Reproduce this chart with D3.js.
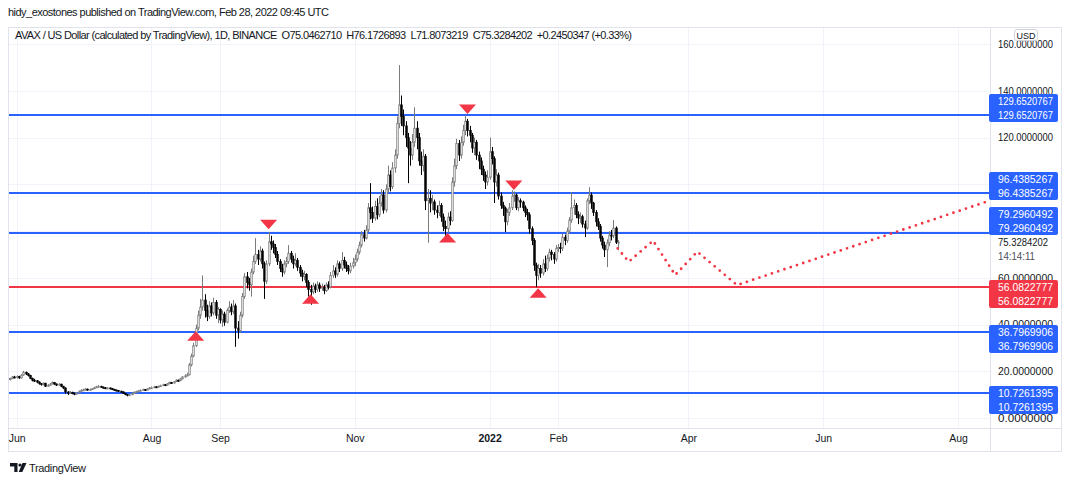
<!DOCTYPE html>
<html>
<head>
<meta charset="utf-8">
<script src="https://cdn.jsdelivr.net/npm/d3@7"></script>
<style>
body { margin: 0; background: #fff; }
svg { display: block; }
</style>
</head>
<body>
<div id="chart"></div>
<script>
// AVAX / USD daily candles, 2021-05-28 .. 2022-02-28
var startDay = '2021-05-28';

var opens = [
    17.0, 16.6, 16.9, 17.6,
    17.3, 17.8, 17.2, 18.4, 19.6, 18.9, 18.2, 17.0, 16.2, 16.0, 15.4, 14.8, 14.3, 14.9, 13.6, 14.1, 14.6, 15.2, 14.6, 14.1, 14.5, 13.6, 12.9, 11.2, 10.6, 11.0, 10.6, 10.2, 10.8, 11.5,
    11.9, 12.1, 12.4, 12.0, 12.3, 12.6, 13.0, 13.4, 13.6, 13.2, 13.0, 12.7, 12.9, 12.6, 12.3, 12.0, 11.8, 11.5, 11.2, 10.6, 10.1, 9.7, 10.0, 10.6, 11.1, 11.3, 11.7, 11.9, 12.2, 12.0, 12.5,
    12.9, 13.0, 13.4, 13.2, 13.6, 13.9, 14.3, 14.1, 14.7, 15.2, 15.0, 15.6, 16.2, 16.0, 16.8, 17.6, 18.1, 18.5, 22.8, 26.5, 31.0, 38.5, 44.0, 47.5, 50.5, 46.0, 43.5, 48.0, 45.0, 49.5, 44.0,
    46.5, 42.0, 44.5, 41.0, 46.0, 47.5, 45.5, 48.0, 38.5, 37.5, 44.0, 52.0, 60.5, 58.0, 57.0, 62.5, 67.0, 70.0, 68.0, 71.5, 66.0, 58.5, 66.0, 75.5, 74.5, 73.0, 70.0, 67.0, 64.0, 62.5,
    66.0, 67.0, 70.5, 68.0, 66.0, 67.5, 64.5, 62.0, 60.5, 61.5, 58.0, 55.0, 54.0, 56.5, 55.0, 57.0, 55.5, 56.0, 54.5, 57.0, 56.0, 61.0, 63.0, 61.5, 66.0, 64.0, 67.5, 65.5, 64.0, 63.0, 65.0,
    66.5, 68.0, 71.0, 74.0, 78.5, 77.0, 80.5, 90.0, 88.0, 85.5, 90.5, 87.0, 92.0, 95.5, 89.0, 98.0, 104.0, 99.0, 107.0, 112.5, 126.0, 134.0, 129.0, 125.0, 120.0, 115.5, 112.5, 118.0, 124.0, 120.0,
    110.0, 108.0, 112.0, 93.0, 94.0, 92.0, 92.5, 89.0, 88.0, 91.0, 86.0, 82.0, 81.0, 86.0, 84.5, 101.0, 108.0, 117.5, 112.5, 118.0, 123.0, 127.0, 123.0, 121.0, 115.5, 118.0, 112.5, 110.0, 106.5, 104.0, 101.0,
    103.0, 114.0, 111.0, 101.0, 104.0, 95.0, 91.0, 89.8, 84.0, 88.0, 90.0, 95.0, 95.4, 90.0, 93.0, 92.4, 90.0, 88.0, 87.0, 81.0, 76.0, 65.4, 61.0, 64.0, 62.0, 66.0, 64.0, 68.4, 71.0, 70.0, 68.0,
    72.7, 73.0, 72.7, 77.4, 76.0, 80.0, 84.7, 90.0, 91.0, 87.0, 85.6, 86.2, 83.0, 81.3, 93.0, 95.4, 92.0, 88.0, 84.0, 82.0, 77.0, 74.0, 72.0, 75.0, 78.3, 78.0, 81.3, 75.0462710
];

var highs = [
    17.6, 17.3, 18.0, 18.1,
    18.3, 18.1, 18.8, 20.2, 19.9, 19.3, 18.5, 17.3, 16.8, 16.3, 15.7, 15.0, 15.3, 15.1, 14.5, 15.0, 15.7, 15.4, 14.8, 14.9, 14.7, 13.8, 13.1, 11.5, 11.6, 11.3, 10.9, 11.1, 11.8, 12.3,
    12.6, 12.8, 12.6, 12.6, 12.9, 13.4, 13.8, 14.1, 13.8, 13.5, 13.2, 13.2, 13.1, 12.8, 12.5, 12.2, 12.0, 11.7, 11.4, 10.8, 10.3, 10.3, 10.9, 11.4, 11.7, 12.0, 12.3, 12.6, 12.4, 12.8, 13.3,
    13.5, 13.8, 13.7, 13.9, 14.3, 14.7, 14.6, 15.0, 15.6, 15.5, 15.9, 16.6, 16.5, 17.2, 18.0, 18.7, 19.4, 23.6, 27.6, 32.2, 40.0, 46.0, 51.0, 61.0, 53.0, 48.5, 50.0, 49.5, 51.5, 50.5, 47.5,
    47.0, 46.0, 45.5, 47.0, 50.0, 49.0, 50.5, 49.0, 41.5, 45.5, 53.5, 62.0, 62.5, 60.0, 64.0, 69.5, 77.0, 72.0, 73.5, 72.5, 67.0, 67.5, 79.6, 78.0, 76.0, 74.5, 71.5, 68.0, 66.0, 67.5,
    69.0, 74.0, 71.5, 69.5, 70.5, 68.5, 65.5, 63.5, 63.0, 62.0, 59.0, 57.0, 58.0, 57.5, 58.5, 58.0, 57.5, 57.0, 58.0, 58.5, 62.5, 65.5, 64.5, 67.5, 67.0, 71.0, 69.0, 67.0, 65.5, 66.5, 68.5,
    70.0, 72.5, 75.5, 80.0, 80.5, 82.5, 92.0, 100.5, 90.5, 93.0, 94.0, 95.0, 98.0, 97.5, 100.0, 108.0, 106.0, 109.5, 115.0, 129.0, 151.0, 138.0, 132.0, 127.0, 122.0, 118.5, 121.5, 133.0, 127.0, 122.0,
    114.0, 115.0, 113.0, 98.0, 97.5, 95.5, 93.5, 91.0, 93.0, 92.0, 87.5, 84.5, 88.0, 88.5, 103.0, 111.0, 119.5, 119.0, 120.5, 125.5, 129.6, 128.0, 125.0, 122.0, 120.0, 119.0, 114.0, 111.5, 108.0, 105.5, 106.0,
    120.0, 116.0, 112.0, 106.5, 105.0, 96.5, 92.5, 90.5, 89.5, 92.0, 97.5, 97.0, 96.0, 94.5, 94.0, 93.0, 91.0, 89.5, 88.0, 82.0, 77.0, 66.5, 66.0, 65.5, 68.0, 69.5, 70.0, 72.5, 72.0, 71.0, 74.0,
    74.5, 75.0, 79.0, 78.5, 81.5, 86.0, 96.7, 93.5, 92.0, 88.5, 88.0, 87.0, 84.5, 94.0, 98.8, 96.5, 92.5, 89.0, 85.5, 83.0, 78.0, 75.5, 76.5, 80.0, 80.5, 84.7, 82.0, 76.1726893
];

var lows = [
    16.0, 16.1, 16.6, 17.0,
    16.9, 16.8, 17.0, 18.1, 18.4, 17.8, 16.7, 15.7, 15.5, 14.9, 14.3, 13.9, 14.0, 13.3, 13.3, 13.9, 14.4, 14.2, 13.7, 13.8, 13.2, 12.4, 10.5, 9.9, 10.3, 10.2, 9.8, 10.0, 10.6, 11.2,
    11.6, 11.9, 11.7, 11.8, 12.1, 12.4, 12.8, 13.1, 12.9, 12.7, 12.4, 12.5, 12.3, 12.0, 11.7, 11.5, 11.2, 10.9, 10.3, 9.8, 9.3, 9.5, 9.8, 10.4, 10.9, 11.1, 11.5, 11.7, 11.7, 11.9, 12.3,
    12.6, 12.8, 12.9, 13.0, 13.4, 13.7, 13.8, 13.9, 14.5, 14.6, 14.8, 15.4, 15.6, 15.8, 16.5, 17.3, 17.8, 18.3, 22.1, 26.0, 30.4, 37.5, 42.5, 46.0, 43.0, 41.5, 42.5, 43.5, 44.0, 42.5, 40.6,
    40.5, 39.0, 39.5, 40.5, 45.0, 44.0, 44.5, 30.5, 34.0, 36.5, 43.0, 51.0, 55.5, 54.5, 52.0, 61.5, 66.0, 65.5, 67.0, 64.0, 51.0, 57.5, 65.0, 72.0, 70.5, 68.5, 65.5, 62.5, 60.5, 61.5,
    64.5, 66.0, 66.5, 64.0, 65.0, 63.0, 60.5, 58.5, 59.0, 56.0, 52.0, 48.5, 53.0, 53.5, 54.0, 54.0, 54.5, 53.0, 54.0, 55.0, 55.5, 60.0, 60.0, 60.5, 62.5, 63.0, 64.0, 62.5, 61.5, 62.0, 64.0,
    65.0, 67.0, 70.0, 73.0, 75.5, 76.5, 79.5, 85.0, 83.5, 84.5, 85.0, 86.0, 90.5, 87.5, 88.0, 96.5, 97.0, 98.0, 105.0, 111.0, 124.0, 125.0, 121.0, 116.0, 100.5, 108.0, 110.5, 116.0, 115.0, 108.0,
    104.0, 105.5, 89.0, 75.0, 88.0, 89.0, 87.0, 85.5, 86.5, 84.0, 80.0, 78.0, 79.5, 82.5, 84.0, 99.0, 106.5, 110.0, 111.0, 116.5, 121.0, 120.5, 118.0, 113.5, 112.5, 110.5, 106.5, 104.0, 101.5, 98.0, 99.5,
    102.0, 108.5, 92.0, 99.0, 93.5, 89.5, 86.5, 79.6, 82.5, 86.5, 89.0, 92.5, 89.0, 88.5, 90.0, 88.5, 86.0, 84.5, 79.0, 74.0, 63.0, 56.0, 59.0, 60.0, 61.0, 62.5, 63.0, 67.0, 67.5, 66.0, 67.0,
    71.0, 70.5, 71.5, 74.0, 75.0, 79.0, 83.5, 87.0, 85.5, 83.0, 83.5, 81.5, 77.4, 80.5, 91.5, 89.5, 86.5, 82.0, 80.5, 75.5, 72.5, 68.9, 64.6, 73.5, 76.0, 77.0, 74.5, 71.8073219
];

var closes = [
    16.6, 16.9, 17.6, 17.3,
    17.8, 17.2, 18.4, 19.6, 18.9, 18.2, 17.0, 16.2, 16.0, 15.4, 14.8, 14.3, 14.9, 13.6, 14.1, 14.6, 15.2, 14.6, 14.1, 14.5, 13.6, 12.9, 11.2, 10.6, 11.0, 10.6, 10.2, 10.8, 11.5, 11.9,
    12.1, 12.4, 12.0, 12.3, 12.6, 13.0, 13.4, 13.6, 13.2, 13.0, 12.7, 12.9, 12.6, 12.3, 12.0, 11.8, 11.5, 11.2, 10.6, 10.1, 9.7, 10.0, 10.6, 11.1, 11.3, 11.7, 11.9, 12.2, 12.0, 12.5, 12.9,
    13.0, 13.4, 13.2, 13.6, 13.9, 14.3, 14.1, 14.7, 15.2, 15.0, 15.6, 16.2, 16.0, 16.8, 17.6, 18.1, 18.5, 22.8, 26.5, 31.0, 38.5, 44.0, 47.5, 50.5, 46.0, 43.5, 48.0, 45.0, 49.5, 44.0, 46.5,
    42.0, 44.5, 41.0, 46.0, 47.5, 45.5, 48.0, 38.5, 37.5, 44.0, 52.0, 60.5, 58.0, 57.0, 62.5, 67.0, 70.0, 68.0, 71.5, 66.0, 58.5, 66.0, 75.5, 74.5, 73.0, 70.0, 67.0, 64.0, 62.5, 66.0,
    67.0, 70.5, 68.0, 66.0, 67.5, 64.5, 62.0, 60.5, 61.5, 58.0, 55.0, 54.0, 56.5, 55.0, 57.0, 55.5, 56.0, 54.5, 57.0, 56.0, 61.0, 63.0, 61.5, 66.0, 64.0, 67.5, 65.5, 64.0, 63.0, 65.0, 66.5,
    68.0, 71.0, 74.0, 78.5, 77.0, 80.5, 90.0, 88.0, 85.5, 90.5, 87.0, 92.0, 95.5, 89.0, 98.0, 104.0, 99.0, 107.0, 112.5, 126.0, 134.0, 129.0, 125.0, 120.0, 115.5, 112.5, 118.0, 124.0, 120.0, 110.0,
    108.0, 112.0, 93.0, 94.0, 92.0, 92.5, 89.0, 88.0, 91.0, 86.0, 82.0, 81.0, 86.0, 84.5, 101.0, 108.0, 117.5, 112.5, 118.0, 123.0, 127.0, 123.0, 121.0, 115.5, 118.0, 112.5, 110.0, 106.5, 104.0, 101.0, 103.0,
    114.0, 111.0, 101.0, 104.0, 95.0, 91.0, 89.8, 84.0, 88.0, 90.0, 95.0, 95.4, 90.0, 93.0, 92.4, 90.0, 88.0, 87.0, 81.0, 76.0, 65.4, 61.0, 64.0, 62.0, 66.0, 64.0, 68.4, 71.0, 70.0, 68.0, 72.7,
    73.0, 72.7, 77.4, 76.0, 80.0, 84.7, 90.0, 91.0, 87.0, 85.6, 86.2, 83.0, 81.3, 93.0, 95.4, 92.0, 88.0, 84.0, 82.0, 77.0, 74.0, 72.0, 75.0, 78.3, 78.0, 81.3, 75.0834, 75.3284202
];

// horizontal levels drawn on the chart
var blueLevels = [129.6520767, 96.4385267, 79.2960492, 36.7969906, 10.7261395];
var redLevels = [56.0822777];

// swing markers
var markerDates = ['2021-08-21', '2021-09-23', '2021-10-12', '2021-12-13', '2021-12-22', '2022-01-12', '2022-01-23'];
var markerPrices = [37.2, 80.8, 53.0, 79.2, 130.1, 97.6, 55.5];
var markerDirs = ['up', 'down', 'up', 'up', 'down', 'down', 'up'];

// dotted projection path
var projDates = ['2022-02-28', '2022-03-05', '2022-03-16', '2022-03-26', '2022-04-05', '2022-04-23', '2022-08-14'];
var projPrices = [72.6, 66.9, 75.9, 61.2, 71.2, 56.9, 92.6];

// axes
var priceTicks = [0, 20, 40, 60, 80, 100, 120, 140, 160];
var monthTicks = ['2021-06-01', '2021-08-01', '2021-09-01', '2021-11-01', '2022-01-01', '2022-02-01', '2022-04-01', '2022-06-01', '2022-08-01'];
var monthLabels = ['Jun', 'Aug', 'Sep', 'Nov', '2022', 'Feb', 'Apr', 'Jun', 'Aug'];

var lastClose = 75.3284202;
var countdown = '14:14:11';

var font = '"Liberation Sans", Arial, sans-serif';
var ink = '#131722';
var gridColor = '#f0f3fa';
var blue = '#2962ff';
var red = '#f23645';

var pane = { left: 8, right: 990, top: 27, bottom: 428, outerRight: 1061, outerBottom: 451 };

var parse = d3.utcParse('%Y-%m-%d');
var t0 = parse(startDay);

var candles = closes.map(function (c, i) {
    return { date: d3.utcDay.offset(t0, i), o: opens[i], h: highs[i], l: lows[i], c: c };
});

var xScale = d3.scaleUtc()
    .domain([parse('2021-06-01'), parse('2022-08-01')])
    .range([16.7, 958]);

var yScale = d3.scaleLinear()
    .domain([0, 160])
    .range([418.1, 44.1]);

var svg = d3.select('#chart').append('svg')
    .attr('width', 1071)
    .attr('height', 482)
    .style('background', '#fff')
    .attr('font-family', font);

svg.append('defs').append('clipPath')
    .attr('id', 'plot-clip')
    .append('rect')
    .attr('x', pane.left + 1)
    .attr('y', pane.top)
    .attr('width', pane.right - pane.left - 1)
    .attr('height', pane.bottom - pane.top);

// header
svg.append('text')
    .attr('x', 8)
    .attr('y', 16)
    .attr('font-size', 11)
    .attr('fill', ink)
    .attr('textLength', 321)
    .text('hidy_exostones published on TradingView.com, Feb 28, 2022 09:45 UTC');

// grid
var grid = svg.append('g');
grid.selectAll('.hgrid').data(priceTicks)
    .enter().append('line')
    .attr('x1', pane.left)
    .attr('x2', pane.right)
    .attr('y1', function (d) { return Math.round(yScale(d)) + 0.5 })
    .attr('y2', function (d) { return Math.round(yScale(d)) + 0.5 })
    .attr('stroke', gridColor);

grid.selectAll('.vgrid').data(monthTicks)
    .enter().append('line')
    .attr('x1', function (d) { return Math.round(xScale(parse(d))) + 0.5 })
    .attr('x2', function (d) { return Math.round(xScale(parse(d))) + 0.5 })
    .attr('y1', pane.top)
    .attr('y2', pane.bottom)
    .attr('stroke', gridColor);

// pane frame and separators
svg.append('rect')
    .attr('x', pane.left + 0.5)
    .attr('y', pane.top + 0.5)
    .attr('width', pane.outerRight - pane.left)
    .attr('height', pane.outerBottom - pane.top)
    .attr('fill', 'none')
    .attr('stroke', '#e0e3eb');

svg.append('line')
    .attr('x1', pane.right + 0.5).attr('x2', pane.right + 0.5)
    .attr('y1', pane.top).attr('y2', pane.outerBottom)
    .attr('stroke', '#e0e3eb');

svg.append('line')
    .attr('x1', pane.left).attr('x2', pane.outerRight)
    .attr('y1', pane.bottom + 0.5).attr('y2', pane.bottom + 0.5)
    .attr('stroke', '#e0e3eb');

var plot = svg.append('g').attr('clip-path', 'url(#plot-clip)');

// levels
var levels = blueLevels.map(function (v) { return { v: v, color: blue } })
    .concat(redLevels.map(function (v) { return { v: v, color: red } }));

plot.selectAll('.level').data(levels)
    .enter().append('line')
    .attr('x1', pane.left)
    .attr('x2', pane.right)
    .attr('y1', function (d) { return Math.round(yScale(d.v)) })
    .attr('y2', function (d) { return Math.round(yScale(d.v)) })
    .attr('stroke', function (d) { return d.color })
    .attr('stroke-width', 2);

// candles
var bodyW = 1.5;
var upColor = '#7b7b7b';

var candle = plot.selectAll('.candle').data(candles)
    .enter().append('g');

candle.append('line')
    .attr('x1', function (d) { return Math.round(xScale(d.date)) + 0.5 })
    .attr('x2', function (d) { return Math.round(xScale(d.date)) + 0.5 })
    .attr('y1', function (d) { return yScale(d.h) })
    .attr('y2', function (d) { return yScale(d.l) })
    .attr('stroke', function (d) { return d.c >= d.o ? upColor : '#000' })
    .attr('stroke-width', 1);

candle.append('rect')
    .attr('x', function (d) { return Math.round(xScale(d.date)) + 0.5 - bodyW / 2 })
    .attr('width', bodyW)
    .attr('y', function (d) { return yScale(Math.max(d.o, d.c)) })
    .attr('height', function (d) { return Math.max(1, Math.abs(yScale(d.o) - yScale(d.c))) })
    .attr('fill', function (d) { return d.c >= d.o ? '#fff' : '#000' })
    .attr('stroke', function (d) { return d.c >= d.o ? upColor : '#000' })
    .attr('stroke-width', 0.8);

// projection
var proj = projDates.map(function (d, i) { return { date: parse(d), p: projPrices[i] } });

plot.append('path')
    .datum(proj)
    .attr('d', d3.line()
        .x(function (d) { return xScale(d.date) })
        .y(function (d) { return yScale(d.p) }))
    .attr('fill', 'none')
    .attr('stroke', red)
    .attr('stroke-width', 2.8)
    .attr('stroke-linecap', 'round')
    .attr('stroke-dasharray', '0 6.6');

// markers
var markers = markerDates.map(function (d, i) {
    return { date: parse(d), p: markerPrices[i], dir: markerDirs[i] };
});

plot.selectAll('.marker').data(markers)
    .enter().append('path')
    .attr('d', function (d) {
        var x = xScale(d.date), y = yScale(d.p);
        var h = d.dir === 'up' ? 9.5 : -9.5;
        return 'M' + x + ',' + y + 'L' + (x + 8.5) + ',' + (y + h) + 'L' + (x - 8.5) + ',' + (y + h) + 'Z';
    })
    .attr('fill', red);

// legend
svg.append('text')
    .attr('x', 15)
    .attr('y', 39)
    .attr('font-size', 11)
    .attr('fill', ink)
    .attr('textLength', 617)
    .attr('xml:space', 'preserve')
    .text('AVAX / US Dollar (calculated by TradingView), 1D, BINANCE  O75.0462710  H76.1726893  L71.8073219  C75.3284202  +0.2450347 (+0.33%)');

// level badges (two stacked labels each)
var badgeShift = { 129.6520767: -14, 96.4385267: -14, 79.2960492: -19, 56.0822777: 0, 36.7969906: 0, 10.7261395: 0 };
var badgeTop = function (d) { return Math.round(yScale(d.v)) + badgeShift[d.v] - 7 };

// price axis; ticks fully hidden behind a badge are not labelled
var visibleTicks = priceTicks.filter(function (t) {
    var y = yScale(t);
    return !levels.some(function (d) { return y > badgeTop(d) && y < badgeTop(d) + 28 });
});

var yAxis = d3.axisRight(yScale)
    .tickValues(visibleTicks)
    .tickSize(0)
    .tickPadding(0)
    .tickFormat(function (d) { return d.toFixed(7) });

var yAxisG = svg.append('g')
    .attr('transform', 'translate(998, 0)')
    .call(yAxis);
yAxisG.select('.domain').remove();
yAxisG.selectAll('text')
    .attr('font-family', font)
    .attr('font-size', 10.5)
    .attr('fill', ink)
    .attr('textLength', 55)
    .attr('lengthAdjust', 'spacingAndGlyphs');

var badge = svg.selectAll('.badge').data(levels)
    .enter().append('g')
    .attr('transform', function (d) { return 'translate(989,' + badgeTop(d) + ')' });

badge.append('rect')
    .attr('x', 0)
    .attr('y', 0)
    .attr('width', 69)
    .attr('height', 28)
    .attr('rx', 2)
    .attr('fill', function (d) { return d.color });

[7, 21].forEach(function (dy) {
    badge.append('text')
        .attr('x', 9)
        .attr('y', dy)
        .attr('dy', '0.36em')
        .attr('font-size', 10.5)
        .attr('fill', '#fff')
        .attr('textLength', 55)
        .attr('lengthAdjust', 'spacingAndGlyphs')
        .text(function (d) { return d.v.toFixed(7) });
});

// last price + countdown
svg.append('text')
    .attr('x', 998)
    .attr('y', yScale(lastClose))
    .attr('dy', '0.36em')
    .attr('font-size', 10.5)
    .attr('fill', ink)
    .attr('textLength', 50)
    .attr('lengthAdjust', 'spacingAndGlyphs')
    .text(lastClose.toFixed(7));

svg.append('text')
    .attr('x', 998)
    .attr('y', yScale(lastClose) + 14)
    .attr('dy', '0.36em')
    .attr('font-size', 10.5)
    .attr('fill', '#4a4e5a')
    .attr('textLength', 37)
    .attr('lengthAdjust', 'spacingAndGlyphs')
    .text(countdown);

// currency tag
svg.append('rect')
    .attr('x', 1014.5)
    .attr('y', 29.5)
    .attr('width', 23)
    .attr('height', 11)
    .attr('rx', 2.5)
    .attr('fill', '#fff')
    .attr('stroke', '#d1d4dc');

svg.append('text')
    .attr('x', 1026)
    .attr('y', 38.5)
    .attr('text-anchor', 'middle')
    .attr('font-size', 9)
    .attr('fill', ink)
    .text('USD');

// time axis
var xAxis = d3.axisBottom(xScale)
    .tickValues(monthTicks.map(parse))
    .tickSize(0)
    .tickPadding(7)
    .tickFormat(function (d, i) { return monthLabels[i] });

var xAxisG = svg.append('g')
    .attr('transform', 'translate(0,' + pane.bottom + ')')
    .call(xAxis);
xAxisG.select('.domain').remove();
xAxisG.selectAll('text')
    .attr('font-family', font)
    .attr('font-size', 10.5)
    .attr('fill', ink)
    .attr('font-weight', function (d, i) { return monthLabels[i] === '2022' ? 'bold' : 'normal' });

// footer logo
var logo = svg.append('g').attr('fill', ink);
logo.append('path').attr('d', 'M10,463 h7.5 v9 h-3.2 v-5.6 h-4.3 z');
logo.append('circle').attr('cx', 20).attr('cy', 465).attr('r', 1.6);
logo.append('path').attr('d', 'M22.5,463 h4 l-4.2,9 h-3.6 z');
logo.append('text')
    .attr('x', 29)
    .attr('y', 471.5)
    .attr('font-size', 11)
    .attr('textLength', 57)
    .text('TradingView');
</script>
</body>
</html>
